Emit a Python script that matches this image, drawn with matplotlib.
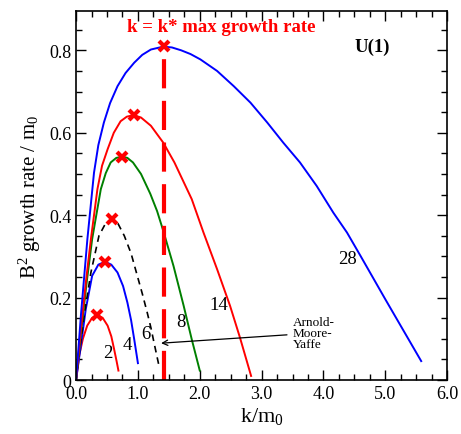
import matplotlib

matplotlib.use("Agg")
import matplotlib.pyplot as plt
from matplotlib.ticker import MultipleLocator

plt.rcParams["font.family"] = ["Liberation Serif", "DejaVu Serif"]
plt.rcParams["mathtext.fontset"] = "custom"
plt.rcParams["mathtext.rm"] = "Liberation Serif"
plt.rcParams["mathtext.it"] = "Liberation Serif:italic"

# growth rate curves (k/m0, rate/m0)
k2 = [0.0, 0.05, 0.11, 0.18, 0.26, 0.345, 0.43, 0.51, 0.57, 0.615, 0.655, 0.685]
g2 = [0.0, 0.059, 0.100, 0.132, 0.151, 0.158, 0.151, 0.132, 0.106, 0.075, 0.046, 0.023]

k4 = [0.0, 0.076, 0.157, 0.26, 0.36, 0.47, 0.57, 0.67, 0.76, 0.83, 0.89, 0.94, 1.0]
g4 = [0.0, 0.083, 0.172, 0.253, 0.280, 0.287, 0.280, 0.261, 0.228, 0.188, 0.145, 0.099, 0.041]

k6 = [0.0, 0.06, 0.13, 0.24, 0.37, 0.48, 0.58, 0.68, 0.78, 0.89, 0.99, 1.07, 1.15, 1.21, 1.26, 1.30, 1.34]
g6 = [0.0, 0.075, 0.156, 0.261, 0.350, 0.381, 0.390, 0.379, 0.350, 0.307, 0.253, 0.210, 0.164, 0.127, 0.091, 0.063, 0.035]

k8 = [0.0, 0.08, 0.17, 0.26, 0.40, 0.48, 0.56, 0.65, 0.75, 0.83, 0.92, 1.05, 1.20, 1.31, 1.41,
      1.575, 1.74, 1.87, 2.0]
g8 = [0.0, 0.115, 0.235, 0.342, 0.463, 0.502, 0.528, 0.539, 0.542, 0.539, 0.528, 0.500, 0.452, 0.410, 0.362,
      0.277, 0.180, 0.099, 0.023]

k14 = [0.0, 0.08, 0.16, 0.24, 0.345, 0.42, 0.51, 0.61, 0.72, 0.82, 0.93, 1.05, 1.21, 1.41, 1.59,
       1.87, 2.06, 2.28, 2.49, 2.65, 2.83]
g14 = [0.0, 0.125, 0.24, 0.342, 0.463, 0.52, 0.560, 0.600, 0.628, 0.639, 0.643, 0.637, 0.617, 0.576, 0.528,
       0.439, 0.358, 0.269, 0.180, 0.103, 0.01]

k28 = [0.0, 0.08, 0.183, 0.29, 0.36, 0.45, 0.55, 0.67, 0.80, 0.94, 1.07, 1.21, 1.41, 1.55, 1.70, 1.85,
       2.01, 2.28, 2.55, 2.82, 3.09, 3.35, 3.62, 3.89, 4.16, 4.38, 4.60, 5.0, 5.58]
g28 = [0.0, 0.16, 0.342, 0.503, 0.570, 0.625, 0.672, 0.713, 0.745, 0.770, 0.789, 0.802, 0.809, 0.807, 0.800, 0.791,
       0.778, 0.750, 0.713, 0.673, 0.625, 0.576, 0.528, 0.471, 0.406, 0.358, 0.301, 0.196, 0.046]

# maxima (k*, rate)
peak_k = [0.345, 0.47, 0.58, 0.75, 0.93, 1.42]
peak_g = [0.158, 0.287, 0.39, 0.542, 0.643, 0.81]

labels = ["2", "4", "6", "8", "14", "28"]
label_k = [0.52, 0.83, 1.13, 1.70, 2.30, 4.39]
label_g = [0.068, 0.087, 0.112, 0.143, 0.184, 0.296]

fig = plt.figure(figsize=(4.61, 4.35), dpi=100)
ax = fig.add_axes([0.165, 0.124, 0.805, 0.848])

ax.plot(k2, g2, color="#ff0000", lw=1.4)
ax.plot(k4, g4, color="#0000ff", lw=1.4)
ax.plot(k6, g6, color="black", lw=1.2, ls=(0, (4, 3)))
ax.plot(k8, g8, color="#008000", lw=1.4)
ax.plot(k14, g14, color="#ff0000", lw=1.4)
ax.plot(k28, g28, color="#0000ff", lw=1.4)

ax.plot([peak_k[-1], peak_k[-1]], [0, peak_g[-1]], color="#ff0000", lw=3, ls=(0, (7, 3)))
ax.plot(peak_k, peak_g, ls="none", marker="x", ms=7, mew=3, color="#ff0000")

for t, x, y in zip(labels, label_k, label_g):
    ax.text(x, y, t, fontsize=13.5, ha="center", va="center")

ax.text(2.35, 0.858, "k = k* max growth rate", color="#ff0000", fontsize=13.5,
        fontweight="bold", ha="center", va="center")
ax.text(4.79, 0.81, "U(1)", fontsize=13.5, fontweight="bold", ha="center", va="center")
ax.annotate("Arnold-\nMoore-\nYaffe", xy=(1.33, 0.089), xytext=(3.50, 0.114),
            fontsize=9.5, ha="left", va="center", linespacing=0.9,
            arrowprops=dict(arrowstyle="->", color="black", lw=0.9))

ax.set_xlim(0, 6)
ax.set_ylim(0, 0.895)
ax.xaxis.set_minor_locator(MultipleLocator(0.25))
ax.yaxis.set_minor_locator(MultipleLocator(0.05))
ax.set_xticks([0, 1, 2, 3, 4, 5, 6])
ax.set_xticklabels(["0.0", "1.0", "2.0", "3.0", "4.0", "5.0", "6.0"])
ax.set_yticks([0, 0.2, 0.4, 0.6, 0.8])
ax.set_yticklabels(["0", "0.2", "0.4", "0.6", "0.8"])
ax.tick_params(which="both", direction="in", top=True, right=True, labelsize=13)
ax.tick_params(which="major", length=7, width=1)
ax.tick_params(which="minor", length=4, width=1)
for s in ax.spines.values():
    s.set_linewidth(1.2)

ax.set_xlabel("k/m$_0$", fontsize=16, labelpad=2)
ax.set_ylabel("B$^2$ growth rate / m$_0$", fontsize=15, labelpad=4)

fig.savefig("out.png", dpi=100)
